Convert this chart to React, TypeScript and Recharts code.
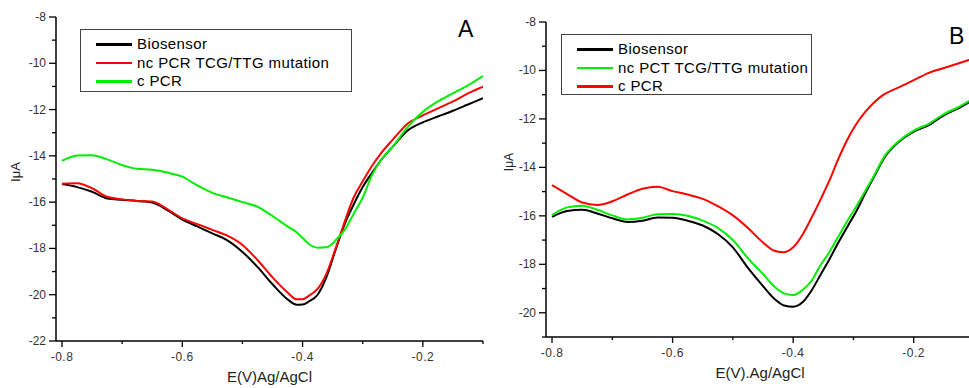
import React from 'react';
import { LineChart, Line, XAxis, YAxis, Legend, Label } from 'recharts';

// panel A potentials (V) and currents (uA)
const aPotential = [
  -0.8, -0.775, -0.75, -0.725, -0.7, -0.675, -0.65, -0.625, -0.6, -0.575, -0.55, -0.525,
  -0.5, -0.475, -0.45, -0.425, -0.41, -0.4, -0.39, -0.375, -0.36, -0.345, -0.33, -0.315,
  -0.3, -0.285, -0.27, -0.25, -0.225, -0.2, -0.175, -0.15, -0.125, -0.1,
];
const aBiosensor = [
  -15.22, -15.35, -15.55, -15.84, -15.9, -15.95, -16.02, -16.34, -16.75, -17.05, -17.35, -17.65,
  -18.15, -18.8, -19.55, -20.2, -20.43, -20.42, -20.3, -20.0, -19.22, -18.05, -16.95, -16.1,
  -15.35, -14.75, -14.2, -13.6, -12.9, -12.55, -12.3, -12.05, -11.78, -11.51,
];
const aNcPcr = [
  -15.2, -15.18, -15.4, -15.77, -15.88, -15.95, -15.97, -16.3, -16.7, -16.95, -17.2, -17.45,
  -17.85, -18.5, -19.25, -19.9, -20.2, -20.2, -20.05, -19.75, -19.08, -18.0, -16.85, -15.8,
  -15.1, -14.45, -13.9, -13.3, -12.6, -12.25, -11.95, -11.65, -11.3, -11.01,
];
const aCPcr = [
  -14.22, -13.98, -13.97, -14.15, -14.4, -14.56, -14.6, -14.72, -14.9, -15.28, -15.6, -15.8,
  -16.0, -16.2, -16.6, -17.05, -17.3, -17.55, -17.8, -17.97, -17.95, -17.65, -17.2, -16.5,
  -15.8, -14.85, -14.2, -13.6, -12.75, -12.1, -11.65, -11.3, -10.95, -10.55,
];

// panel B potentials (V) and currents (uA)
const bPotential = [
  -0.8, -0.775, -0.75, -0.725, -0.7, -0.675, -0.65, -0.625, -0.6, -0.575, -0.55, -0.525,
  -0.5, -0.475, -0.45, -0.43, -0.415, -0.4, -0.385, -0.37, -0.355, -0.34, -0.325, -0.31,
  -0.295, -0.28, -0.265, -0.25, -0.225, -0.2, -0.175, -0.15, -0.125, -0.1,
];
const bBiosensor = [
  -16.04, -15.8, -15.75, -15.9, -16.1, -16.25, -16.2, -16.07, -16.08, -16.2, -16.4, -16.75,
  -17.3, -18.15, -18.9, -19.45, -19.7, -19.75, -19.58, -19.1, -18.45, -17.8, -17.1, -16.45,
  -15.8, -15.05, -14.35, -13.65, -12.95, -12.52, -12.26, -11.85, -11.55, -11.2,
];
const bNcPct = [
  -15.97, -15.65, -15.58, -15.75, -15.98, -16.15, -16.08, -15.93, -15.92, -16.0, -16.2, -16.5,
  -17.0, -17.75, -18.4, -18.95, -19.2, -19.27, -19.07, -18.7, -18.05, -17.5, -16.85, -16.2,
  -15.6, -14.95, -14.3, -13.6, -12.92, -12.48, -12.2, -11.8, -11.5, -11.15,
];
const bCPcr = [
  -14.73, -15.1, -15.45, -15.55, -15.4, -15.12, -14.88, -14.8, -14.98, -15.12, -15.3, -15.6,
  -15.98, -16.5, -17.1, -17.45, -17.5, -17.3, -16.8, -16.1, -15.35, -14.55, -13.65, -12.85,
  -12.2, -11.7, -11.3, -11.0, -10.7, -10.4, -10.1, -9.9, -9.7, -9.5,
];

const xTicks = [-0.8, -0.7, -0.6, -0.5, -0.4, -0.3, -0.2, -0.1];
const xLabels = [-0.8, -0.6, -0.4, -0.2];
const aYTicks = [-22, -21, -20, -19, -18, -17, -16, -15, -14, -13, -12, -11, -10, -9, -8];
const bYTicks = [-21, -20, -19, -18, -17, -16, -15, -14, -13, -12, -11, -10, -9, -8];
const yLabels = [-22, -20, -18, -16, -14, -12, -10, -8];

const FONT = '"Liberation Sans", Arial, sans-serif';
const TICK_COLOR = '#333';

const pts = (xs: number[], ys: number[]) => xs.map((x, i) => ({ x, y: ys[i] }));

const isIn = (list: number[], v: number) => list.some((t) => Math.abs(t - v) < 1e-6);

const XTick = (props: any) => {
  const { x, y, payload, top } = props;
  const major = isIn(xLabels, payload.value);
  const len = major ? 6 : 3;
  const dir = top ? -1 : 1;
  return (
    <g>
      <line x1={x} x2={x} y1={y} y2={y + dir * len} stroke="#000" strokeWidth={1.3} />
      {!top && major && (
        <text x={x} y={y + 20} textAnchor="middle" fontSize={12} letterSpacing={0.5} fontFamily={FONT} fill={TICK_COLOR}>
          {payload.value}
        </text>
      )}
    </g>
  );
};

const YTick = (props: any) => {
  const { x, y, payload } = props;
  const major = isIn(yLabels, payload.value);
  const len = major ? 7 : 4;
  return (
    <g>
      <line x1={x} x2={x - len} y1={y} y2={y} stroke="#000" strokeWidth={1.3} />
      {major && (
        <text x={x - 10} y={y + 4} textAnchor="end" fontSize={12} fontFamily={FONT} fill={TICK_COLOR}>
          {payload.value}
        </text>
      )}
    </g>
  );
};

type Series = { name: string; color: string; data: { x: number; y: number }[] };

const LegendBox = ({ items }: { items: Series[] }) => (
  <div
    style={{
      border: '1px solid #444',
      boxSizing: 'border-box',
      width: '100%',
      height: '100%',
      paddingTop: 5,
      fontFamily: FONT,
      fontSize: 15,
      letterSpacing: 0.4,
      color: '#000',
      background: '#fff',
    }}
  >
    {items.map((s) => (
      <div key={s.name} style={{ display: 'flex', alignItems: 'center', height: 18.5 }}>
        <div style={{ marginLeft: 15, width: 36, height: 2.5, background: s.color }} />
        <span style={{ marginLeft: 5, lineHeight: '18px' }}>{s.name}</span>
      </div>
    ))}
  </div>
);

const Panel = ({
  series,
  yDomain,
  yTicks,
  margin,
  width,
  legendPos,
  xTitle,
}: {
  series: Series[];
  yDomain: [number, number];
  yTicks: number[];
  margin: { top: number; right: number; bottom: number; left: number };
  width: number;
  legendPos: { left: number; top: number; width: number; height: number };
  xTitle: string;
}) => (
  <LineChart width={width} height={388} margin={margin}>
    <XAxis
      dataKey="x"
      type="number"
      domain={[-0.81, -0.1]}
      allowDataOverflow
      ticks={xTicks}
      interval={0}
      height={30}
      tickSize={0}
      tickMargin={0}
      tickLine={false}
      axisLine={{ stroke: '#000', strokeWidth: 1.5 }}
      tick={<XTick />}
    >
      <Label value={xTitle} position="bottom" offset={0} fontSize={15} fontFamily={FONT} fill="#222" />
    </XAxis>
    <XAxis
      xAxisId="top"
      orientation="top"
      type="number"
      domain={[-0.81, -0.1]}
      allowDataOverflow
      ticks={xTicks}
      interval={0}
      height={0}
      tickSize={0}
      tickMargin={0}
      tickLine={false}
      axisLine={{ stroke: '#000', strokeWidth: 1.5 }}
      tick={<XTick top />}
    />
    <YAxis
      type="number"
      domain={yDomain}
      allowDataOverflow
      ticks={yTicks}
      interval={0}
      width={56}
      tickSize={0}
      tickMargin={0}
      tickLine={false}
      axisLine={{ stroke: '#000', strokeWidth: 1.5 }}
      tick={<YTick />}
    />
    <YAxis
      yAxisId="right"
      orientation="right"
      type="number"
      domain={yDomain}
      width={0}
      tick={false}
      tickLine={false}
      axisLine={{ stroke: '#000', strokeWidth: 1.5 }}
    />
    <Legend
      layout="horizontal"
      verticalAlign="middle"
      align="center"
      content={<LegendBox items={series} />}
      wrapperStyle={{ position: 'absolute', ...legendPos }}
    />
    {series.map((s) => (
      <Line
        key={s.name}
        data={s.data}
        dataKey="y"
        name={s.name}
        type="monotone"
        stroke={s.color}
        strokeWidth={2}
        dot={false}
        isAnimationActive={false}
      />
    ))}
  </LineChart>
);

const BLACK = '#000000';
const RED = '#ff0000';
const GREEN = '#00ee00';

const seriesA: Series[] = [
  { name: 'Biosensor', color: BLACK, data: pts(aPotential, aBiosensor) },
  { name: 'nc PCR TCG/TTG mutation', color: RED, data: pts(aPotential, aNcPcr) },
  { name: 'c PCR', color: GREEN, data: pts(aPotential, aCPcr) },
];
const seriesB: Series[] = [
  { name: 'Biosensor', color: BLACK, data: pts(bPotential, bBiosensor) },
  { name: 'nc PCT TCG/TTG mutation', color: GREEN, data: pts(bPotential, bNcPct) },
  { name: 'c PCR', color: RED, data: pts(bPotential, bCPcr) },
];

const yTitleStyle = (left: number, top: number, size: number): React.CSSProperties => ({
  position: 'absolute',
  left,
  top,
  transform: 'translate(-50%, -50%) rotate(-90deg)',
  fontFamily: FONT,
  fontSize: size,
  color: '#222',
  whiteSpace: 'nowrap',
});

export default function App() {
  return (
    <div
      style={{
        position: 'absolute',
        left: 0,
        top: 0,
        width: 969,
        height: 388,
        overflow: 'hidden',
        background: '#fff',
      }}
    >
      <div style={{ position: 'absolute', left: 0, top: 0 }}>
        <Panel
          series={seriesA}
          yDomain={[-22, -8]}
          yTicks={aYTicks}
          width={490}
          margin={{ top: 17, right: 7, bottom: 17, left: 0 }}
          legendPos={{ left: 80, top: 29, width: 272, height: 63 }}
          xTitle="E(V)Ag/AgCl"
        />
      </div>
      <div style={{ position: 'absolute', left: 490, top: 0 }}>
        <Panel
          series={seriesB}
          yDomain={[-21, -8]}
          yTicks={bYTicks}
          width={490}
          margin={{ top: 22, right: 6, bottom: 21, left: 0 }}
          legendPos={{ left: 71, top: 34, width: 251, height: 61 }}
          xTitle="E(V).Ag/AgCl"
        />
      </div>
      <div style={yTitleStyle(15, 172, 13)}>IμA</div>
      <div style={yTitleStyle(509, 162, 12)}>IμA</div>
      <div style={{ position: 'absolute', left: 458, top: 16, fontFamily: FONT, fontSize: 23 }}>A</div>
      <div style={{ position: 'absolute', left: 949, top: 23, fontFamily: FONT, fontSize: 23 }}>B</div>
    </div>
  );
}
